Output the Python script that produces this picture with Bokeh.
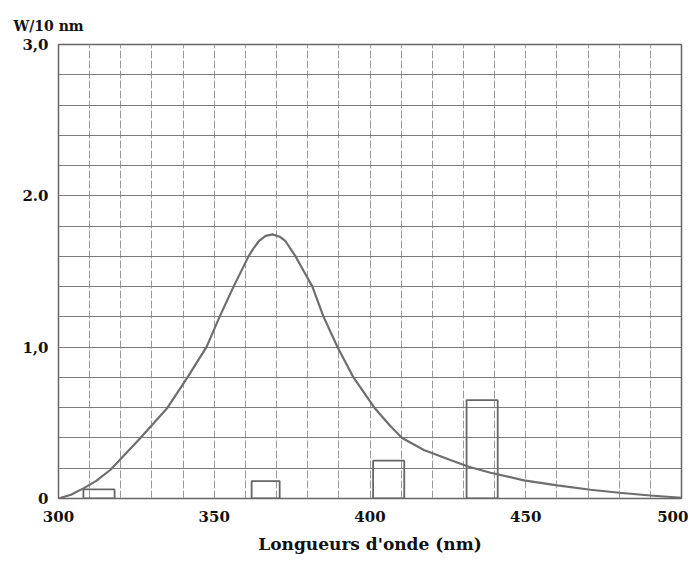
from bokeh.plotting import figure
from bokeh.models import Range1d, FixedTicker, SingleIntervalTicker, Title
from bokeh.embed import file_html
from bokeh.resources import INLINE

# Spectrum curve (wavelength nm, W/10 nm)
wavelength = [300, 304, 308, 312, 316.7, 326.3, 335, 341.4, 347.5, 351.7, 356.2, 361, 362.5, 364.3,
              366.5, 368.7, 371, 372.9, 374.5, 376.1, 378.8, 381.5, 385.1, 389.6, 394.7, 401.4,
              406.6, 410.3, 417.3, 425.8, 431.7, 438.7, 449.4, 460.1, 470.8, 480, 490, 500]
power = [0.0, 0.025, 0.067, 0.115, 0.19, 0.4, 0.6, 0.8, 1.0, 1.2, 1.4, 1.6, 1.65, 1.7,
         1.735, 1.745, 1.73, 1.7, 1.65, 1.6, 1.5, 1.4, 1.2, 1.0, 0.8, 0.6,
         0.477, 0.40, 0.32, 0.254, 0.21, 0.17, 0.12, 0.087, 0.058, 0.038, 0.02, 0.005]

# Line bars
bar_left = [308, 362, 401, 431]
bar_right = [318, 371, 411, 441]
bar_height = [0.06, 0.115, 0.25, 0.65]

x_ticks = [300, 350, 400, 450, 500]
y_ticks = [0, 1, 2, 3]
y_tick_labels = {0: "0", 1: "1,0", 2: "2.0", 3: "3,0"}

FONT = "DejaVu Serif"

p = figure(width=688, height=558, output_backend="svg", toolbar_location=None,
           x_range=Range1d(300, 500), y_range=Range1d(0, 3.0),
           min_border_left=58, min_border_right=7, min_border_top=44, min_border_bottom=60)
p.background_fill_color = "white"
p.border_fill_color = "white"
p.outline_line_color = "#666666"
p.outline_line_width = 1.5

p.xgrid.ticker = SingleIntervalTicker(interval=10)
p.ygrid.ticker = SingleIntervalTicker(interval=0.2)
p.xgrid.grid_line_color = "#9a9a9a"
p.xgrid.grid_line_width = 1
p.xgrid.grid_line_dash = "8 2"
p.ygrid.grid_line_color = "#7a7a7a"
p.ygrid.grid_line_width = 1

for ax in (p.xaxis, p.yaxis):
    ax.axis_line_color = None
    ax.major_tick_line_color = None
    ax.minor_tick_line_color = None
    ax.major_tick_out = 0
    ax.major_tick_in = 0
    ax.minor_tick_out = 0
    ax.major_label_text_font = FONT
    ax.major_label_text_font_style = "bold"
    ax.major_label_text_font_size = "15px"
    ax.major_label_text_color = "#111111"

p.xaxis.ticker = FixedTicker(ticks=x_ticks)
p.yaxis.ticker = FixedTicker(ticks=y_ticks)
p.yaxis.major_label_overrides = y_tick_labels
p.yaxis.major_label_standoff = 10
p.xaxis.major_label_standoff = 12

p.xaxis.axis_label = "Longueurs d'onde (nm)"
p.xaxis.axis_label_text_font = FONT
p.xaxis.axis_label_text_font_style = "bold"
p.xaxis.axis_label_text_font_size = "17px"
p.xaxis.axis_label_text_color = "#111111"
p.xaxis.axis_label_standoff = 9

p.quad(left=bar_left, right=bar_right, bottom=0, top=bar_height,
       fill_color=None, line_color="#666666", line_width=1.8)
p.line(wavelength, power, line_color="#6e6e6e", line_width=2.2)

p.add_layout(Title(text="W/10 nm", align="left", offset=-45, standoff=21,
                   text_font=FONT, text_font_style="bold", text_font_size="14px",
                   text_color="#111111"), "above")

open("out.html", "w").write(file_html(p, INLINE))
